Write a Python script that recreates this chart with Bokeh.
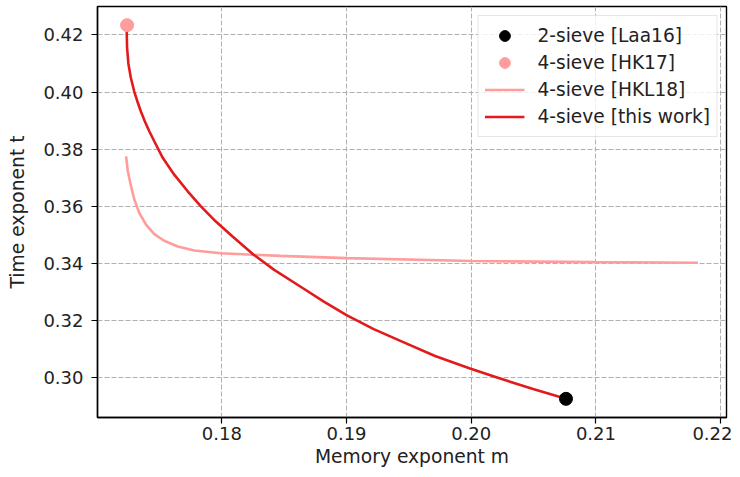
from bokeh.plotting import figure
from bokeh.models import Range1d, Legend, LegendItem, NumeralTickFormatter, FixedTicker
from bokeh.embed import file_html
from bokeh.resources import INLINE

# ---- data ----
laa16_m = [0.2076]
laa16_t = [0.2927]

hk17_m = [0.1724]
hk17_t = [0.4234]

hkl18_m = [0.17232, 0.17246, 0.17272, 0.17298, 0.17338, 0.17392, 0.17458, 0.17538,
           0.17646, 0.17778, 0.17992, 0.18246, 0.18472, 0.19000, 0.20006, 0.21000, 0.21818]
hkl18_t = [0.3775, 0.3723, 0.3670, 0.3624, 0.3577, 0.3536, 0.3503, 0.3480,
           0.3460, 0.3446, 0.3436, 0.3431, 0.3427, 0.3419, 0.3409, 0.3405, 0.3403]

work_m = [0.17236, 0.17240, 0.17250, 0.17270, 0.17298, 0.17322, 0.17350, 0.17382,
          0.17418, 0.17458, 0.17526, 0.17618, 0.17726, 0.17832, 0.17952, 0.18086,
          0.18255, 0.18420, 0.18632, 0.18818, 0.19000, 0.19218, 0.19450, 0.19710,
          0.19990, 0.20232, 0.20496, 0.20760]
work_t = [0.4232, 0.4155, 0.4101, 0.4050, 0.4001, 0.3968, 0.3933, 0.3898,
          0.3863, 0.3828, 0.3770, 0.3711, 0.3653, 0.3600, 0.3547, 0.3495,
          0.3431, 0.3378, 0.3319, 0.3267, 0.3220, 0.3171, 0.3126, 0.3077,
          0.3033, 0.2998, 0.2961, 0.2927]

x_ticks = [0.18, 0.19, 0.20, 0.21, 0.22]
y_ticks = [0.30, 0.32, 0.34, 0.36, 0.38, 0.40, 0.42]

labels = ["2-sieve [Laa16]", "4-sieve [HK17]", "4-sieve [HKL18]", "4-sieve [this work]"]

# ---- ranges with 5% padding (like matplotlib) ----
all_m = laa16_m + hk17_m + hkl18_m + work_m
all_t = laa16_t + hk17_t + hkl18_t + work_t
mspan = max(all_m) - min(all_m)
tspan = max(all_t) - min(all_t)
xr = Range1d(min(all_m) - 0.05 * mspan, max(all_m) + 0.05 * mspan)
yr = Range1d(min(all_t) - 0.05 * tspan, max(all_t) + 0.05 * tspan)

RED = "#e31a1c"
PINK = "#ff9d9d"
FONT = "DejaVu Sans"
TXT = "#222222"

p = figure(width=732, height=469, output_backend="svg", toolbar_location=None,
           x_range=xr, y_range=yr,
           min_border_left=97, min_border_right=6, min_border_top=6, min_border_bottom=0,
           x_axis_label="Memory exponent m", y_axis_label="Time exponent t")

r_hkl18 = p.line(hkl18_m, hkl18_t, line_color=PINK, line_width=2.6)
r_work = p.line(work_m, work_t, line_color=RED, line_width=2.6)
r_hk17 = p.scatter(hk17_m, hk17_t, size=13, fill_color=PINK, line_color=PINK)
r_laa16 = p.scatter(laa16_m, laa16_t, size=13, fill_color="black", line_color="black")

p.xaxis.ticker = FixedTicker(ticks=x_ticks)
p.yaxis.ticker = FixedTicker(ticks=y_ticks)
for ax in (p.xaxis[0], p.yaxis[0]):
    ax.formatter = NumeralTickFormatter(format="0.00")
    ax.axis_line_color = "black"
    ax.axis_line_width = 1.4
    ax.major_tick_line_color = "black"
    ax.major_tick_line_width = 1.2
    ax.major_tick_out = 6
    ax.major_tick_in = 0
    ax.minor_tick_line_color = None
    ax.major_label_text_font = FONT
    ax.major_label_text_font_size = "18px"
    ax.major_label_text_color = TXT
    ax.axis_label_text_font = FONT
    ax.axis_label_text_font_size = "18.7px"
    ax.axis_label_text_font_style = "normal"
    ax.axis_label_text_color = TXT

p.xaxis[0].major_label_standoff = 3
p.xaxis[0].axis_label_standoff = 3
p.yaxis[0].major_label_standoff = 8
p.yaxis[0].axis_label_standoff = 12

p.grid.grid_line_color = "#b0b0b0"
p.grid.grid_line_dash = "5 2"
p.grid.grid_line_width = 1

p.outline_line_color = "black"
p.outline_line_width = 1.4
p.background_fill_color = "white"
p.border_fill_color = "white"

legend = Legend(items=[
    LegendItem(label=labels[0], renderers=[r_laa16]),
    LegendItem(label=labels[1], renderers=[r_hk17]),
    LegendItem(label=labels[2], renderers=[r_hkl18]),
    LegendItem(label=labels[3], renderers=[r_work]),
], location="top_right")
legend.margin = 9
legend.padding = 6
legend.spacing = 0
legend.glyph_width = 40
legend.glyph_height = 27
legend.label_height = 20
legend.label_standoff = 13
legend.label_text_font = FONT
legend.label_text_font_size = "18.6px"
legend.label_text_color = TXT
legend.border_line_color = "#cccccc"
legend.border_line_width = 1
legend.background_fill_alpha = 0.8
p.add_layout(legend)

open("out.html", "w").write(file_html(p, INLINE))
